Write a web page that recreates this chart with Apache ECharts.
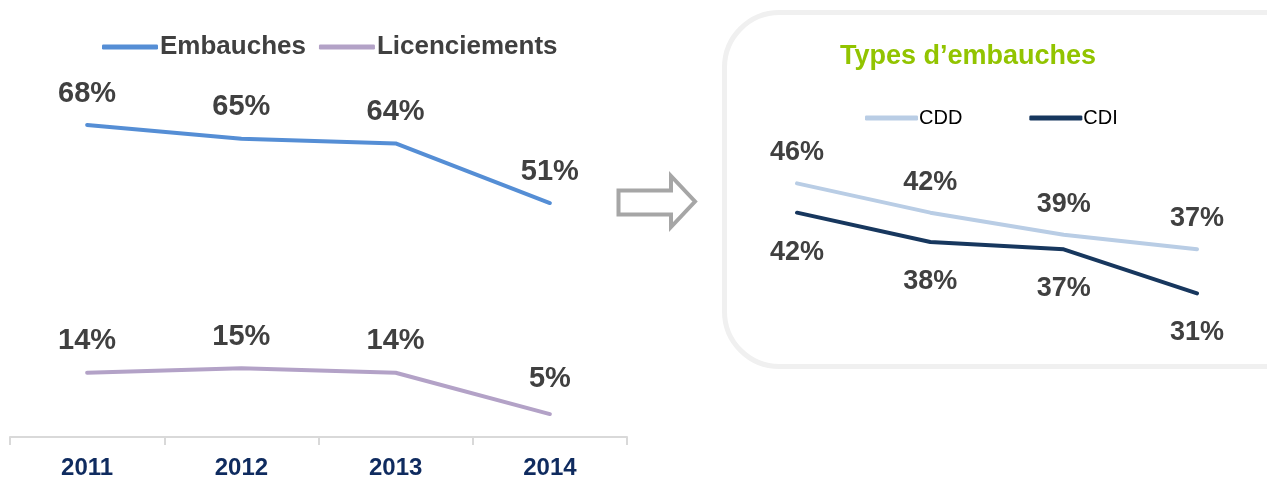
<!DOCTYPE html>
<html>
<head>
<meta charset="utf-8">
<script src="https://cdn.jsdelivr.net/npm/echarts@6/dist/echarts.min.js"></script>
<style>
  html, body { margin: 0; padding: 0; background: #fff; }
  #chart { width: 1267px; height: 479px; }
</style>
</head>
<body>
<div id="chart"></div>
<script>
  // data
  const years = ['2011', '2012', '2013', '2014'];
  const embauches = [68, 65, 64, 51];
  const licenciements = [14, 15, 14, 5];
  const cdd = [46, 42, 39, 37];
  const cdi = [42, 38, 37, 31];

  const font = 'Liberation Sans, Arial, sans-serif';

  const labelStyle = (pos, dist, size) => ({
    show: true,
    position: pos,
    distance: dist,
    formatter: '{c}%',
    fontFamily: font,
    fontWeight: 'bold',
    fontSize: size,
    color: '#404040',
  });

  const lineSeries = (name, data, color, xi, label) => ({
    name,
    type: 'line',
    xAxisIndex: xi,
    yAxisIndex: xi,
    data,
    symbol: 'circle',
    symbolSize: 2,
    itemStyle: { color },
    lineStyle: { color, width: 4, cap: 'round' },
    label,
    emphasis: { disabled: true },
    animation: false,
  });

  const myChart = echarts.init(document.getElementById('chart'));

  // last point of Licenciements has its label a bit higher
  const licData = licenciements.map((v, i) => (i === licenciements.length - 1
    ? { value: v, label: { distance: 20 } } : v));

  const options = {
    backgroundColor: '#fff',
    animation: false,
    graphic: [
      {
        type: 'rect',
        z: -10,
        shape: { x: 724.5, y: 12.5, width: 600, height: 354, r: 55 },
        style: { fill: '#fff', stroke: '#f0f0f0', lineWidth: 5 },
      },
      {
        type: 'polygon',
        shape: {
          points: [[618.5, 190.5], [671, 190.5], [671, 176], [695, 201.5],
            [671, 227], [671, 214.5], [618.5, 214.5]],
        },
        style: { fill: '#fff', stroke: '#a6a6a6', lineWidth: 4 },
      },
      {
        type: 'text',
        left: 840,
        top: 43,
        style: {
          text: 'Types d’embauches',
          fontFamily: font,
          fontWeight: 'bold',
          fontSize: 27,
          fill: '#92c400',
        },
      },
    ],
    legend: [
      {
        data: ['Embauches', 'Licenciements'],
        left: 97,
        top: 29,
        icon: 'roundRect',
        itemWidth: 56,
        itemHeight: 5,
        itemGap: 13,
        textStyle: { fontFamily: font, fontWeight: 'bold', fontSize: 26, color: '#404040', padding: [0, 0, 0, -3] },
      },
      {
        data: ['CDD', 'CDI'],
        left: 860,
        top: 103,
        icon: 'roundRect',
        itemWidth: 53,
        itemHeight: 5,
        itemGap: 67,
        textStyle: { fontFamily: font, fontSize: 20, color: '#000', padding: [0, 0, 0, -4] },
      },
    ],
    grid: [
      { left: 10, right: 640, top: 70, bottom: 42, outerBoundsMode: 'none' },
      { left: 797, right: 70, top: 154, bottom: 105, outerBoundsMode: 'none' },
    ],
    xAxis: [
      {
        type: 'category',
        gridIndex: 0,
        data: years,
        boundaryGap: true,
        axisLine: { lineStyle: { color: '#d9d9d9', width: 2 } },
        axisTick: { show: true, length: 8, lineStyle: { color: '#d9d9d9', width: 2 } },
        axisLabel: {
          margin: 19,
          fontFamily: font,
          fontWeight: 'bold',
          fontSize: 24,
          color: '#0f2b5f',
        },
      },
      {
        type: 'category',
        gridIndex: 1,
        data: years,
        boundaryGap: false,
        show: false,
      },
    ],
    yAxis: [
      { type: 'value', gridIndex: 0, min: 0, max: 80, show: false },
      { type: 'value', gridIndex: 1, min: 20, max: 50, show: false },
    ],
    series: [
      lineSeries('Embauches', embauches, '#558ed5', 0, labelStyle('top', 16, 29)),
      lineSeries('Licenciements', licData, '#b3a2c7', 0, labelStyle('top', 16, 29)),
      lineSeries('CDD', cdd, '#b9cde5', 1, labelStyle('top', 16, 27)),
      lineSeries('CDI', cdi, '#17375e', 1, labelStyle('bottom', 25, 27)),
    ],
  };

  myChart.setOption(options);
</script>
</body>
</html>
